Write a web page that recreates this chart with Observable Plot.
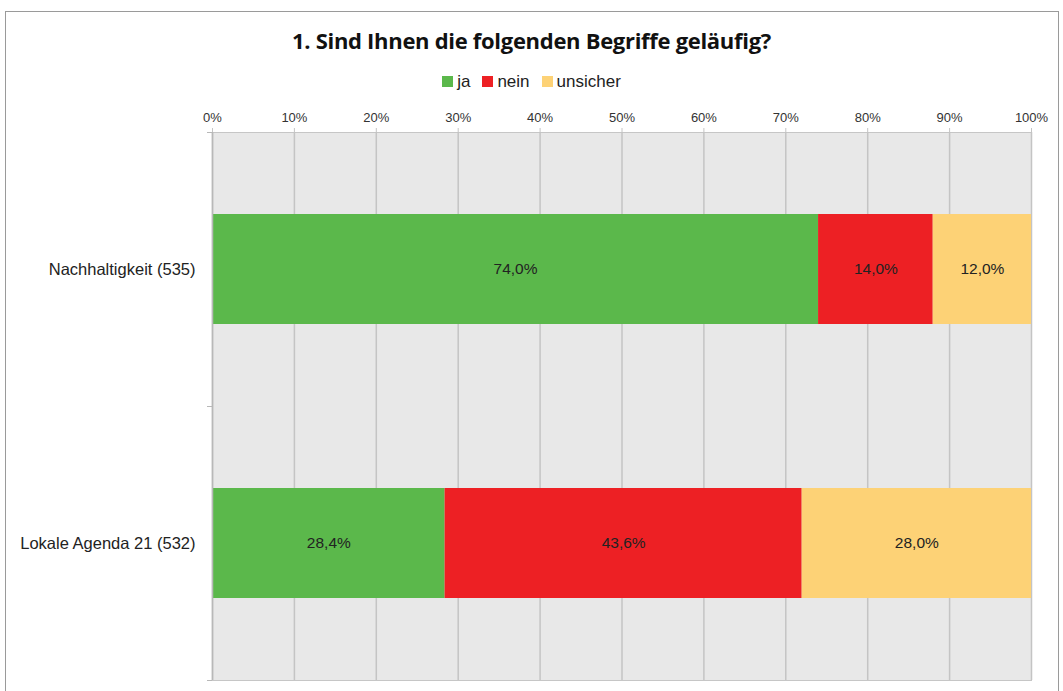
<!DOCTYPE html>
<html>
<head>
<meta charset="utf-8">
<script src="https://cdn.jsdelivr.net/npm/d3@7"></script>
<script src="https://cdn.jsdelivr.net/npm/@observablehq/plot@0.6"></script>
<style>
  html, body { margin: 0; padding: 0; background: #fff; }
  body { width: 1063px; height: 691px; position: relative; overflow: hidden; font-family: "Liberation Sans", Arial, sans-serif; }
  #border { position: absolute; left: 5px; top: 11px; width: 1054px; height: 700px; border: 1px solid #9a9a9a; box-sizing: border-box; }
  #title { position: absolute; left: 0; top: 25px; width: 1063px; text-align: center; font-family: "Open Sans", sans-serif; font-weight: 700; font-size: 22px; color: #111; letter-spacing: -0.3px; }
  #legend { position: absolute; left: 0; top: 72px; width: 1063px; text-align: center; font-size: 17px; color: #222; }
  #legend span.item { margin: 0 6px; }
  #legend span.sw { display: inline-block; width: 11px; height: 11px; margin-right: 4px; vertical-align: 0px; }
  #chart { position: absolute; left: 0; top: 95px; }
</style>
</head>
<body>
<div id="border"></div>
<div id="title">1. Sind Ihnen die folgenden Begriffe geläufig?</div>
<div id="legend"></div>
<div id="chart"></div>
<script>
const categories = ["Nachhaltigkeit (535)", "Lokale Agenda 21 (532)"];
const answers = ["ja", "nein", "unsicher"];
const ja = [74.0, 28.4];
const nein = [14.0, 43.6];
const unsicher = [12.0, 28.0];
const colors = ["#5bb84b", "#ed2024", "#fdd276"];
const xTicks = [0, 10, 20, 30, 40, 50, 60, 70, 80, 90, 100];

const series = [ja, nein, unsicher];
const data = [];
categories.forEach((c, i) => {
  answers.forEach((a, j) => data.push({cat: c, answer: a, value: series[j][i]}));
});

// legend
const legend = document.getElementById("legend");
answers.forEach((a, j) => {
  const s = document.createElement("span");
  s.className = "item";
  s.innerHTML = `<span class="sw" style="background:${colors[j]}"></span>${a}`;
  legend.appendChild(s);
});

const W = 1063, H = 596, mT = 37, mB = 11, mL = 212, mR = 32;
const quarter = (H - mT - mB) / 4;
const fmt = v => v.toFixed(1).replace(".", ",") + "%";

const chart = Plot.plot({
  width: W,
  height: H,
  marginTop: mT,
  marginBottom: mB,
  marginLeft: mL,
  marginRight: mR,
  style: {fontFamily: "'Liberation Sans', Arial, sans-serif", background: "transparent"},
  x: {domain: [0, 100]},
  y: {domain: categories, paddingInner: 0.6, paddingOuter: 0.3},
  color: {domain: answers, range: colors},
  marks: [
    Plot.frame({fill: "#e8e8e8", stroke: "#c6c6c6"}),
    Plot.gridX({ticks: xTicks, stroke: "#c4c4c4", strokeOpacity: 1, strokeWidth: 1.5}),
    Plot.axisX({anchor: "top", ticks: xTicks, tickFormat: d => d + "%", tickSize: 5, tickPadding: 6, fontSize: 13, stroke: "#c4c4c4", color: "#333", label: null}),
    Plot.barX(data, Plot.stackX({x: "value", y: "cat", fill: "answer", order: answers})),
    Plot.text(data, Plot.stackX({x: "value", y: "cat", z: "answer", order: answers, text: d => fmt(d.value), fontSize: 15.5, fill: "#222"})),
    Plot.ruleX([0], {stroke: "#b8b8b8", strokeWidth: 1.5}),
    Plot.axisY({tickSize: 0, tickPadding: 17, fontSize: 16.5, color: "#222", label: null}),
    Plot.axisY({tickSize: 5, text: null, dy: -quarter, stroke: "#b8b8b8", label: null}),
    Plot.axisY({tickSize: 5, text: null, dy: quarter, stroke: "#b8b8b8", label: null})
  ]
});
document.getElementById("chart").appendChild(chart);
</script>
</body>
</html>
